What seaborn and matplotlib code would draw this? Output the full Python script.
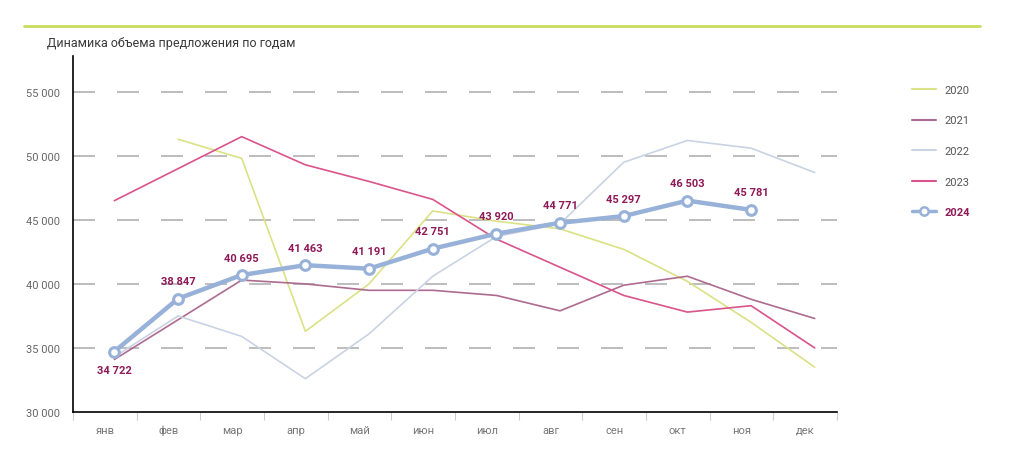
"""
Динамика объема предложения по годам (line chart, 2020-2024)
"""

import numpy as np
import pandas as pd
import seaborn as sns
import matplotlib.pyplot as plt
from matplotlib.lines import Line2D

# %%
months = ["янв", "фев", "мар", "апр", "май", "июн", "июл", "авг", "сен", "окт", "ноя", "дек"]

y2020 = [np.nan, 51300, 49800, 36300, 40000, 45700, 44900, 44300, 42700, 40200, 37000, 33500]
y2021 = [34100, 37200, 40300, 40000, 39500, 39500, 39100, 37900, 39900, 40600, 38800, 37300]
y2022 = [34300, 37500, 35900, 32600, 36100, 40600, 43700, 44700, 49500, 51200, 50600, 48700]
y2023 = [46500, 49000, 51500, 49300, 48000, 46600, 43500, 41300, 39100, 37800, 38300, 35000]
y2024 = [34722, 38847, 40695, 41463, 41191, 42751, 43920, 44771, 45297, 46503, 45781]

years = ["2020", "2021", "2022", "2023"]
colors = {"2020": "#dbe285", "2021": "#ad6b90", "2022": "#cad3e3", "2023": "#d9548b"}
c2024 = "#98b1d9"
label_color = "#8e1a58"

# points sit a bit to the right of the category centre, as in the source
shift = 0.15

rows = []
for year, vals in zip(years, [y2020, y2021, y2022, y2023]):
    for i, v in enumerate(vals):
        rows.append({"x": i + shift, "value": v, "year": year})
df = pd.DataFrame(rows).dropna()

df24 = pd.DataFrame({"x": np.arange(len(y2024)) + shift, "value": y2024})

# %%
sns.set_style("white")
plt.rcParams["font.family"] = ["Roboto", "DejaVu Sans"]

fig = plt.figure(figsize=(10.25, 4.6), dpi=100)
ax = fig.add_axes([0.0712, 0.1022, 0.7454, 0.774])

sns.lineplot(data=df, x="x", y="value", hue="year", palette=colors, lw=1.2,
             legend=False, ax=ax, zorder=2)
sns.lineplot(data=df24, x="x", y="value", color=c2024, lw=3.2, marker="o",
             markersize=7, markerfacecolor="white", markeredgecolor=c2024,
             markeredgewidth=2.2, ax=ax, zorder=3)

# data labels for 2024
for i, v in enumerate(y2024):
    txt = f"{v:,}".replace(",", " ")
    dy = -10 if i == 0 else 9
    ax.annotate(txt, (i + shift, v), xytext=(0, dy), textcoords="offset points",
                ha="center", va="top" if i == 0 else "bottom",
                fontsize=8, fontweight="bold", color=label_color)

ax.set_xlim(-0.5, 11.5)
ax.set_ylim(30000, 57800)
ax.set_yticks(range(30000, 55001, 5000))
ax.set_yticklabels([f"{v:,}".replace(",", " ") for v in range(30000, 55001, 5000)],
                   fontsize=8, color="#666666")
for v in range(35000, 55001, 5000):
    ax.axhline(v, color="#ababab", lw=1.1, dashes=(14.4, 14.4), zorder=1)

ax.set_xticks(np.arange(-0.5, 12, 1))
ax.set_xticklabels([])
ax.set_xticks(np.arange(12), minor=True)
ax.set_xticklabels(months, minor=True, fontsize=8, color="#777777")
for lbl in ax.get_xticklabels(minor=True):
    lbl.set_verticalalignment("baseline")
ax.tick_params(axis="x", which="major", length=6, width=0.8, color="#cccccc",
               direction="out", bottom=True)
ax.tick_params(axis="x", which="minor", length=0, pad=15)
ax.tick_params(axis="y", length=0, pad=9)
ax.set_xlabel("")
ax.set_ylabel("")

for s in ["top", "right"]:
    ax.spines[s].set_visible(False)
for s in ["left", "bottom"]:
    ax.spines[s].set_color("black")
    ax.spines[s].set_linewidth(1.2)

# legend
handles = [Line2D([], [], color=colors[y], lw=1.5) for y in years]
handles.append(Line2D([], [], color=c2024, lw=2.5, marker="o", markersize=6,
                      markerfacecolor="white", markeredgewidth=1.8))
leg = fig.legend(handles, years + ["2024"], loc="upper left",
                 bbox_to_anchor=(0.88, 0.835), frameon=False, fontsize=8,
                 handlelength=2.2, labelspacing=1.85, handletextpad=0.7)
for t in leg.get_texts():
    t.set_color("#555555")
leg.get_texts()[-1].set_color(label_color)
leg.get_texts()[-1].set_fontweight("bold")

# header rule and title
fig.add_artist(Line2D([24 / 1025, 980 / 1025], [1 - 27 / 460, 1 - 27 / 460],
                      color="#c9dc5c", lw=2))
fig.text(47 / 1025, 1 - 44 / 460, "Динамика объема предложения по годам",
         fontsize=9, color="#3a3a3a", va="center", ha="left")

fig.savefig("out.png", dpi=100)
